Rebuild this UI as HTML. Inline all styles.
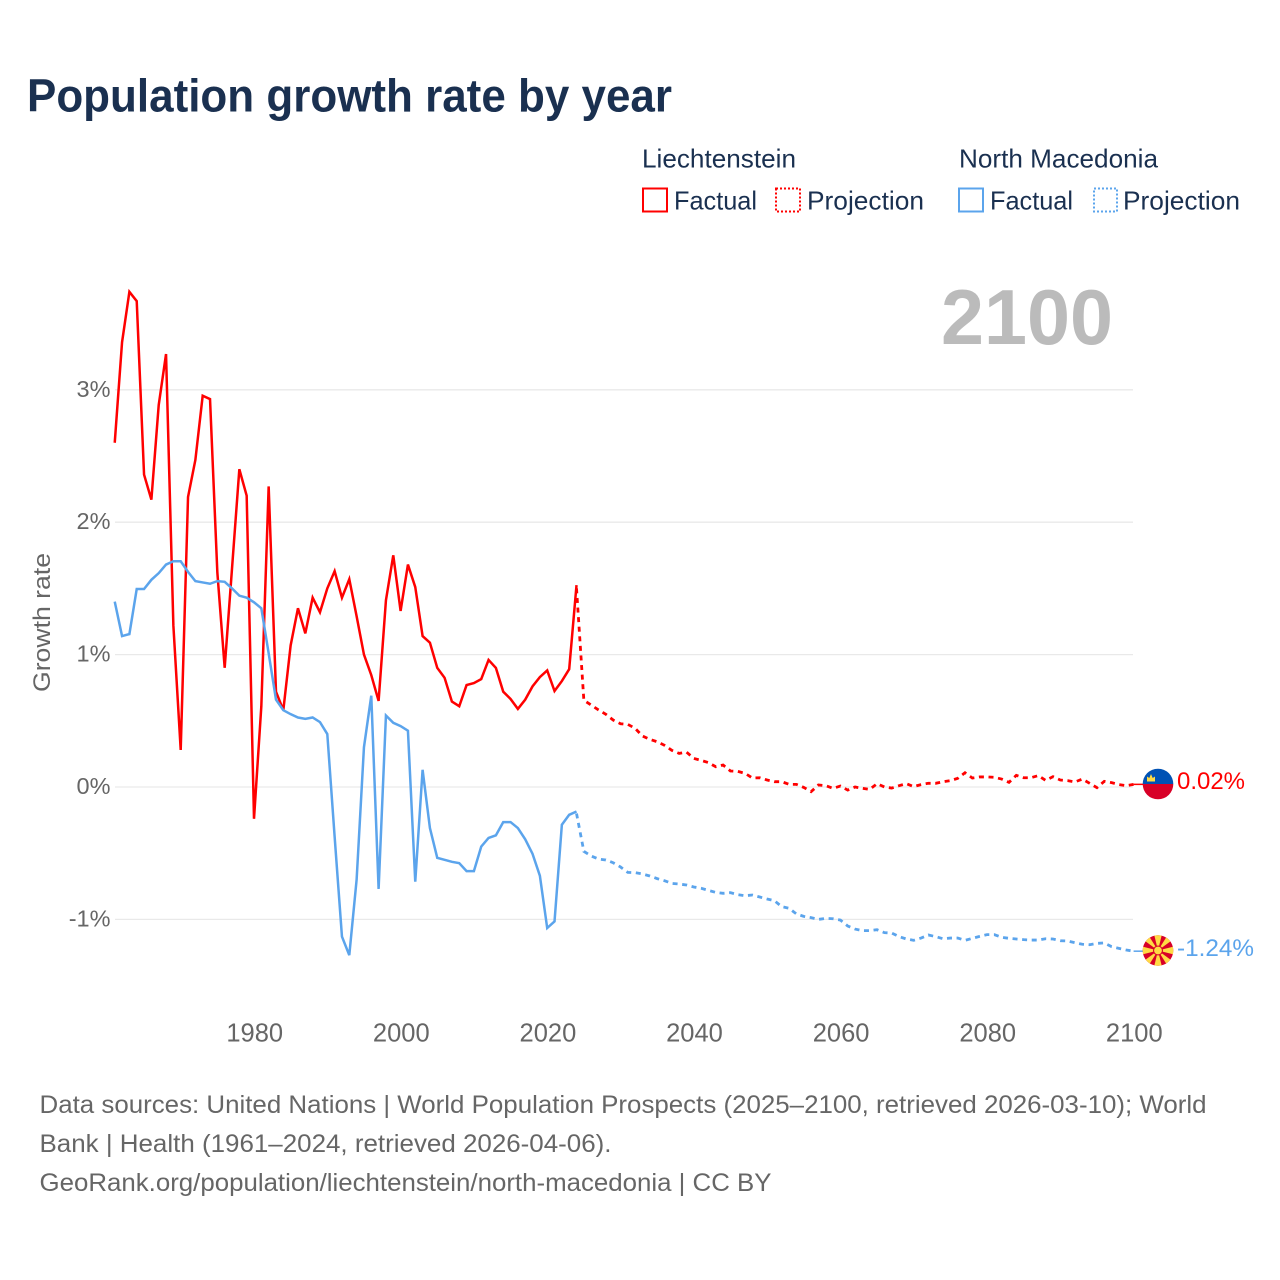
<!DOCTYPE html>
<html lang="en">
<head>
<meta charset="utf-8">
<title>Population growth rate by year</title>
<style>
html,body{margin:0;padding:0;background:#fff;}
svg{display:block;}
text{font-family:"Liberation Sans",sans-serif;}
</style>
</head>
<body>
<svg id="chart" xmlns="http://www.w3.org/2000/svg" width="1280" height="1280" viewBox="0 0 1280 1280">
  <defs>
    <clipPath id="clip-li"><circle cx="1158" cy="784" r="15.3"/></clipPath>
    <clipPath id="clip-mk"><circle cx="1158" cy="950.5" r="15.3"/></clipPath>
  </defs>
  <rect width="1280" height="1280" fill="#fff"/>
  <text x="27" y="111.5" font-size="46" font-weight="700" fill="#1a3050" textLength="645" lengthAdjust="spacingAndGlyphs">Population growth rate by year</text>

  <g font-size="26" fill="#1a3050">
    <text x="642" y="167.5" textLength="154" lengthAdjust="spacingAndGlyphs">Liechtenstein</text>
    <text x="959" y="167.5" textLength="199" lengthAdjust="spacingAndGlyphs">North Macedonia</text>
    <rect x="643" y="188.5" width="24" height="23" fill="none" stroke="#ff0000" stroke-width="2"/>
    <text x="674" y="209.5" textLength="83" lengthAdjust="spacingAndGlyphs">Factual</text>
    <rect x="776" y="188.5" width="24" height="23" fill="none" stroke="#ff0000" stroke-width="2" stroke-dasharray="2 2"/>
    <text x="807" y="209.5" textLength="117" lengthAdjust="spacingAndGlyphs">Projection</text>
    <rect x="959" y="188.5" width="24" height="23" fill="none" stroke="#5ba4ec" stroke-width="2"/>
    <text x="990" y="209.5" textLength="83" lengthAdjust="spacingAndGlyphs">Factual</text>
    <rect x="1094" y="188.5" width="23" height="23" fill="none" stroke="#5ba4ec" stroke-width="2" stroke-dasharray="2 2"/>
    <text x="1123" y="209.5" textLength="117" lengthAdjust="spacingAndGlyphs">Projection</text>
  </g>

  <text x="941" y="344" font-size="78" font-weight="700" fill="#bbbbbb" textLength="172" lengthAdjust="spacingAndGlyphs">2100</text>
  <text transform="translate(50,692) rotate(-90)" font-size="24" fill="#666666" textLength="139" lengthAdjust="spacingAndGlyphs">Growth rate</text>

  <g id="grid"></g>
  <g id="y-ticks"></g>
  <g id="x-ticks"></g>
  <g id="series"></g>

  <g clip-path="url(#clip-li)">
    <rect x="1142" y="768" width="32" height="16" fill="#0052b4"/>
    <rect x="1142" y="784" width="32" height="16" fill="#d80027"/>
    <path d="M1147 781.5 L1147 776.5 L1149.3 778 L1151 774 L1152.7 778 L1155 776.5 L1155 781.5 Z" fill="#ffda44"/>
  </g>
  <g clip-path="url(#clip-mk)">
    <rect x="1142" y="935" width="32" height="32" fill="#d80027"/>
    <g fill="#ffda44">
      <path d="M1158 950.5 L1154 934 L1162 934 Z"/>
      <path d="M1158 950.5 L1154 967 L1162 967 Z"/>
      <path d="M1158 950.5 L1142 946.5 L1142 954.5 Z"/>
      <path d="M1158 950.5 L1174 946.5 L1174 954.5 Z"/>
      <path d="M1158 950.5 L1143 939.5 L1148 934.5 Z"/>
      <path d="M1158 950.5 L1173 939.5 L1168 934.5 Z"/>
      <path d="M1158 950.5 L1143 961.5 L1148 966.5 Z"/>
      <path d="M1158 950.5 L1173 961.5 L1168 966.5 Z"/>
    </g>
    <circle cx="1158" cy="950.5" r="5" fill="#d80027"/>
    <circle cx="1158" cy="950.5" r="3.9" fill="#ffda44"/>
  </g>

  <text id="end-label-li" x="1177" y="789" font-size="24.5" fill="#ff0000" textLength="68" lengthAdjust="spacingAndGlyphs"></text>
  <text id="end-label-mk" x="1177" y="956" font-size="24.5" fill="#5ba4ec" textLength="77" lengthAdjust="spacingAndGlyphs"></text>

  <g font-size="25" fill="#666666">
    <text x="39.5" y="1113" textLength="1167" lengthAdjust="spacingAndGlyphs">Data sources: United Nations | World Population Prospects (2025–2100, retrieved 2026-03-10); World</text>
    <text x="39.5" y="1152" textLength="572" lengthAdjust="spacingAndGlyphs">Bank | Health (1961–2024, retrieved 2026-04-06).</text>
    <text x="39.5" y="1191" textLength="732" lengthAdjust="spacingAndGlyphs">GeoRank.org/population/liechtenstein/north-macedonia | CC BY</text>
  </g>
</svg>
<script>
const firstFactualYear = 1961;
const firstProjectionYear = 2024;
const xTickYears = [1980, 2000, 2020, 2040, 2060, 2080, 2100];
const yTickValues = [-1, 0, 1, 2, 3];
const liechtensteinFactual = [
  2.60,3.36,3.74,3.67,2.36,2.17,2.885,3.27,1.22,0.28,
  2.19,2.47,2.955,2.93,1.62,0.90,1.65,2.40,2.20,-0.24,
  0.61,2.27,0.72,0.58,1.07,1.35,1.16,1.43,1.32,1.50,
  1.63,1.43,1.57,1.29,1.00,0.845,0.65,1.41,1.75,1.33,
  1.68,1.51,1.14,1.09,0.90,0.825,0.645,0.61,0.77,0.785,
  0.815,0.96,0.90,0.72,0.665,0.59,0.66,0.76,0.83,0.88,
  0.725,0.80,0.89,1.525
];
const northMacedoniaFactual = [
  1.40,1.14,1.155,1.495,1.495,1.565,1.615,1.68,1.705,1.705,
  1.625,1.555,1.545,1.535,1.555,1.55,1.50,1.445,1.43,1.395,
  1.35,1.01,0.66,0.58,0.55,0.525,0.515,0.525,0.49,0.40,
  -0.375,-1.13,-1.27,-0.70,0.30,0.69,-0.77,0.54,0.485,0.46,
  0.425,-0.715,0.13,-0.31,-0.535,-0.55,-0.565,-0.575,-0.635,-0.635,
  -0.45,-0.385,-0.365,-0.265,-0.265,-0.31,-0.395,-0.505,-0.67,-1.065,
  -1.015,-0.285,-0.21,-0.185
];
const liechtensteinProjection = [
  1.50,0.655,0.619,0.582,0.549,0.506,0.478,0.473,0.443,0.385,
  0.360,0.342,0.315,0.277,0.254,0.264,0.216,0.201,0.184,0.153,
  0.166,0.121,0.118,0.103,0.068,0.070,0.053,0.040,0.040,0.020,
  0.020,-0.003,-0.035,0.015,0.010,-0.010,0.007,-0.023,0,-0.010,
  -0.018,0.025,0,-0.008,0.010,0.025,0.003,0.018,0.028,0.028,
  0.040,0.048,0.065,0.108,0.068,0.076,0.076,0.073,0.060,0.035,
  0.088,0.070,0.070,0.086,0.050,0.078,0.053,0.048,0.038,0.060,
  0.028,-0.005,0.043,0.033,0.018,0.010,0.020
];
const northMacedoniaProjection = [
  -0.20,-0.486,-0.521,-0.544,-0.551,-0.572,-0.604,-0.645,-0.647,-0.657,
  -0.672,-0.692,-0.708,-0.728,-0.733,-0.740,-0.755,-0.765,-0.781,-0.796,
  -0.803,-0.798,-0.813,-0.821,-0.816,-0.831,-0.846,-0.859,-0.904,-0.916,
  -0.959,-0.977,-0.987,-1.000,-0.992,-0.995,-1.005,-1.050,-1.073,-1.085,
  -1.085,-1.078,-1.100,-1.103,-1.130,-1.148,-1.158,-1.141,-1.118,-1.130,
  -1.146,-1.141,-1.141,-1.158,-1.143,-1.128,-1.115,-1.115,-1.135,-1.143,
  -1.148,-1.153,-1.156,-1.156,-1.146,-1.148,-1.161,-1.163,-1.176,-1.188,
  -1.191,-1.181,-1.178,-1.206,-1.219,-1.231,-1.24
];
const endValueLabels = ["0.02%", "-1.24%"];

const SVGNS = "http://www.w3.org/2000/svg";
const RED = "#ff0000";
const BLUE = "#5ba4ec";
function xScale(year) { return 254 + (year - 1980) * 7.33; }
function yScale(value) { return 787 - value * 132.4; }

const grid = document.getElementById("grid");
const yTicks = document.getElementById("y-ticks");
const xTicks = document.getElementById("x-ticks");
const series = document.getElementById("series");

yTickValues.forEach(function (v) {
  const line = document.createElementNS(SVGNS, "line");
  line.setAttribute("x1", 115);
  line.setAttribute("x2", 1133);
  line.setAttribute("y1", yScale(v));
  line.setAttribute("y2", yScale(v));
  line.setAttribute("stroke", "#e9e9e9");
  line.setAttribute("stroke-width", "1.3");
  
  
  grid.appendChild(line);

  const label = document.createElementNS(SVGNS, "text");
  label.setAttribute("x", 110.5);
  label.setAttribute("y", yScale(v) + 7);
  label.setAttribute("text-anchor", "end");
  label.setAttribute("font-size", "23.5");
  label.setAttribute("fill", "#666666");
  label.textContent = v + "%";
  
  
  yTicks.appendChild(label);
});

xTickYears.forEach(function (year) {
  const label = document.createElementNS(SVGNS, "text");
  label.setAttribute("x", xScale(year) + 0.7);
  label.setAttribute("y", 1041.5);
  label.setAttribute("text-anchor", "middle");
  label.setAttribute("font-size", "25.5");
  label.setAttribute("fill", "#666666");
  label.textContent = year;
  
  
  xTicks.appendChild(label);
});

function pathFrom(values, startYear) {
  return values.map(function (v, i) {
    return (i ? "L" : "M") + xScale(startYear + i).toFixed(2) + " " + yScale(v).toFixed(2);
  }).join(" ");
}

function drawFactual(values, color, name) {
  const p = document.createElementNS(SVGNS, "path");
  p.setAttribute("d", pathFrom(values, firstFactualYear));
  p.setAttribute("fill", "none");
  p.setAttribute("stroke", color);
  p.setAttribute("stroke-width", "2.5");
  p.setAttribute("stroke-linejoin", "miter");
  
  
  series.appendChild(p);
}

function drawProjection(values, color, name) {
  const p = document.createElementNS(SVGNS, "path");
  p.setAttribute("d", pathFrom(values, firstProjectionYear));
  p.setAttribute("fill", "none");
  p.setAttribute("stroke", color);
  p.setAttribute("stroke-width", "2.8");
  p.setAttribute("stroke-dasharray", "5 4.6");
  
  
  series.appendChild(p);
}

function drawLeader(values, color, name) {
  const last = values[values.length - 1];
  const l = document.createElementNS(SVGNS, "line");
  l.setAttribute("x1", xScale(2100));
  l.setAttribute("x2", 1143);
  l.setAttribute("y1", yScale(last));
  l.setAttribute("y2", yScale(last));
  l.setAttribute("stroke", color);
  l.setAttribute("stroke-width", "1.5");
  
  
  series.appendChild(l);
}

drawFactual(liechtensteinFactual, RED, "line-liechtenstein-factual");
drawProjection(liechtensteinProjection, RED, "line-liechtenstein-projection");
drawLeader(liechtensteinProjection, RED, "leader-liechtenstein");
drawFactual(northMacedoniaFactual, BLUE, "line-north-macedonia-factual");
drawProjection(northMacedoniaProjection, BLUE, "line-north-macedonia-projection");
drawLeader(northMacedoniaProjection, BLUE, "leader-north-macedonia");

document.getElementById("end-label-li").textContent = endValueLabels[0];
document.getElementById("end-label-mk").textContent = endValueLabels[1];
</script>
</body>
</html>
